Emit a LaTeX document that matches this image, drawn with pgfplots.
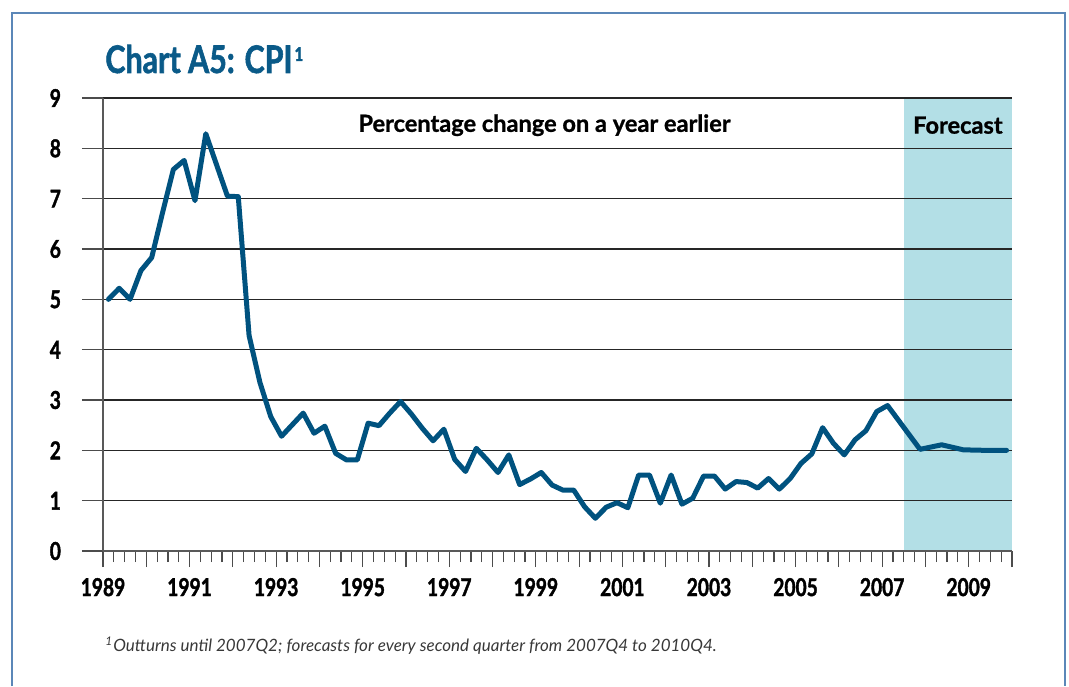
\documentclass[border=0pt]{standalone}
\usepackage{pgfplots}
\pgfplotsset{compat=1.18}
\usepackage{fontspec}
\setmainfont{Lato}
\newfontfamily\condfont[FakeStretch=0.78, FakeBold=1.5]{Lato}
\newfontfamily\titlefont[FakeStretch=0.8, FakeBold=1.5]{Lato}
\newfontfamily\labfont[FakeBold=1]{Lato}
\definecolor{linecol}{HTML}{00527F}
\definecolor{titlecol}{HTML}{0A5A88}
\definecolor{shadecol}{HTML}{B3DFE6}
\definecolor{framecol}{HTML}{5B87B8}
\pgfplotsset{common/.style={
  at={(51.5pt,67.5pt)}, anchor=south west,
  width=454.5pt, height=226.5pt, scale only axis,
  xmin=0, xmax=84, ymin=0, ymax=9,
  tick align=outside,
  tick style={black!70, line width=0.6pt},
  tick label style={font=\condfont\bfseries\fontsize{12.3}{14}\selectfont},
  /pgf/number format/assume math mode=true,
  clip=false,
}}
\begin{document}
\begin{tikzpicture}
\begin{scope}[x=0.5pt,y=0.5pt]
\useasboundingbox (0,0) rectangle (1069,686);
\draw[framecol, line width=0.7pt] (12,0) -- (12,673) -- (1065,673) -- (1065,0);
\node[anchor=base west, inner sep=0pt, text=titlecol, font=\titlefont\bfseries\fontsize{19}{21}\selectfont] at (105,613) {Chart A5: CPI\hspace{1pt}\raisebox{6pt}{\fontsize{9.5}{9.5}\selectfont 1}};
\node[anchor=base west, inner sep=0pt, text=black!78, font=\itshape\fontsize{8.5}{10}\selectfont] at (105,35) {\textsuperscript{1}Outturns until 2007Q2; forecasts for every second quarter from 2007Q4 to 2010Q4.};
\end{scope}
\begin{axis}[common,
  axis x line*=bottom, axis y line*=left,
  axis line style={draw=black!65, line width=0.6pt},
  ytick={0,...,9},
  xtick=\empty,
  ymajorgrids, grid style={black!85, line width=0.6pt},
  major tick length=10.5pt,
  yticklabel style={xshift=-7pt},
  set layers,
]
\begin{pgfonlayer}{axis background}
\fill[shadecol] (axis cs:74,0) rectangle (axis cs:84,9);
\end{pgfonlayer}
\addplot[linecol, line width=2.5pt, line join=round, line cap=round] coordinates {
(0.5,5.00) (1.5,5.22) (2.5,5.00) (3.5,5.57) (4.5,5.83) (5.5,6.72) (6.5,7.58) (7.5,7.76)
(8.5,6.96) (9.5,8.29) (10.5,7.67) (11.5,7.05) (12.5,7.04) (13.5,4.28) (14.5,3.35) (15.5,2.67)
(16.5,2.28) (17.5,2.51) (18.5,2.74) (19.5,2.34) (20.5,2.48) (21.5,1.94) (22.5,1.81) (23.5,1.81)
(24.5,2.54) (25.5,2.49) (26.5,2.74) (27.5,2.97) (28.5,2.72) (29.5,2.44) (30.5,2.19) (31.5,2.42)
(32.5,1.82) (33.5,1.58) (34.5,2.04) (35.5,1.81) (36.5,1.56) (37.5,1.91) (38.5,1.32) (39.5,1.43)
(40.5,1.56) (41.5,1.31) (42.5,1.21) (43.5,1.21) (44.5,0.88) (45.5,0.65) (46.5,0.87) (47.5,0.96)
(48.5,0.86) (49.5,1.51) (50.5,1.51) (51.5,0.95) (52.5,1.51) (53.5,0.93) (54.5,1.05) (55.5,1.49)
(56.5,1.49) (57.5,1.23) (58.5,1.38) (59.5,1.36) (60.5,1.25) (61.5,1.44) (62.5,1.23) (63.5,1.44)
(64.5,1.74) (65.5,1.93) (66.5,2.45) (67.5,2.14) (68.5,1.91) (69.5,2.21) (70.5,2.39) (71.5,2.77)
(72.5,2.89) (73.5,2.60) (75.5,2.02) (77.5,2.11) (79.5,2.01) (81.5,2.00) (83.5,2.00)
};
\node[font=\labfont\bfseries\fontsize{11.8}{13}\selectfont] at (axis cs:40.8,8.46) {Percentage change on a year earlier};
\node[font=\labfont\bfseries\fontsize{11.8}{13}\selectfont] at (axis cs:79,8.46) {Forecast};
\end{axis}
\begin{axis}[common,
  axis x line*=bottom, axis y line=none,
  axis line style={draw=black!65, line width=0.6pt},
  ytick=\empty,
  xtick={0,4,...,84},
  xticklabels={1989,,1991,,1993,,1995,,1997,,1999,,2001,,2003,,2005,,2007,,2009,},
  minor x tick num=3,
  major tick length=8pt, minor tick length=5.5pt,
  xticklabel style={yshift=-2pt},
]
\end{axis}
\end{tikzpicture}
\end{document}
